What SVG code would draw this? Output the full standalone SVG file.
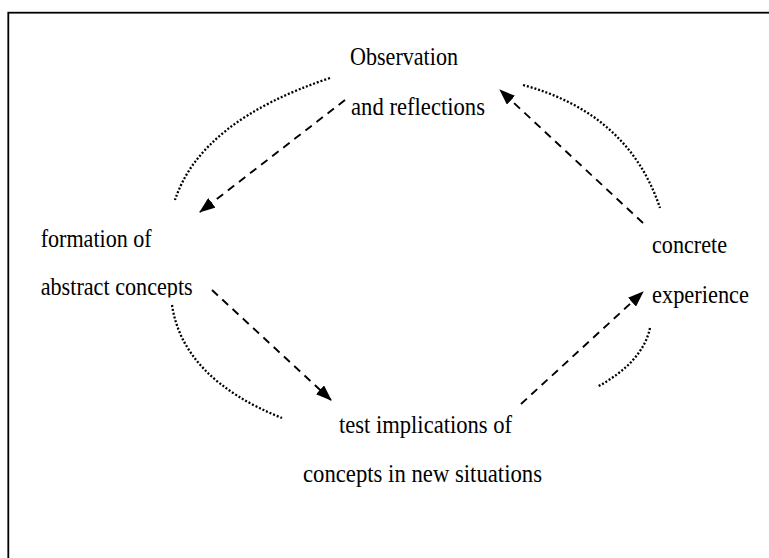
<svg xmlns="http://www.w3.org/2000/svg" width="769" height="558" viewBox="0 0 769 558">
  <style>
    text { font-family: "Liberation Serif", "DejaVu Serif", serif; font-size: 26px; fill: #000; }
    .cycle { fill: none; stroke: #000; stroke-width: 2.3; stroke-dasharray: 2 1.9; }
    .flow { fill: none; stroke: #000; stroke-width: 1.9; stroke-dasharray: 8 6; }
  </style>
  <defs>
    <marker id="arrow" viewBox="0 0 16 12" refX="15" refY="6" markerWidth="16" markerHeight="12" markerUnits="userSpaceOnUse" orient="auto">
      <path d="M0,0 L16,6 L0,12 Z" fill="#000"/>
    </marker>
    <clipPath id="clipAbstract">
      <rect x="30" y="260" width="200" height="37.5"/>
    </clipPath>
  </defs>

  <rect x="0" y="0" width="769" height="558" fill="#fff"/>
  <!-- frame -->
  <rect x="8.3" y="12.7" width="800" height="600" fill="none" stroke="#000" stroke-width="1.8"/>

  <g id="observation">
    <text x="350" y="65" textLength="108" lengthAdjust="spacingAndGlyphs">Observation</text>
    <text x="351" y="115" textLength="134" lengthAdjust="spacingAndGlyphs">and reflections</text>
  </g>

  <g id="formation">
    <text x="40.7" y="247" textLength="111" lengthAdjust="spacingAndGlyphs">formation of</text>
    <text x="40.7" y="295" textLength="152" lengthAdjust="spacingAndGlyphs" clip-path="url(#clipAbstract)">abstract concepts</text>
  </g>

  <g id="concrete">
    <text x="652" y="253" textLength="75" lengthAdjust="spacingAndGlyphs">concrete</text>
    <text x="652" y="302.5" textLength="97" lengthAdjust="spacingAndGlyphs">experience</text>
  </g>

  <g id="test">
    <text x="339" y="433" textLength="173" lengthAdjust="spacingAndGlyphs">test implications of</text>
    <text x="303" y="482" textLength="239" lengthAdjust="spacingAndGlyphs">concepts in new situations</text>
  </g>

  <g id="connectors">
    <!-- dotted cycle arcs -->
    <path class="cycle" d="M330,78 Q201,121 175,200"/>
    <path class="cycle" d="M523,85 Q628.5,113.5 660,208"/>
    <path class="cycle" d="M172,305 Q183,378.5 282,418"/>
    <path class="cycle" d="M650,328 Q642.5,362.5 597,387"/>
    <!-- dashed flow arrows -->
    <path class="flow" d="M345,100 L200,212" marker-end="url(#arrow)"/>
    <path class="flow" d="M643,223 L500,90" marker-end="url(#arrow)"/>
    <path class="flow" d="M212,290 L331,400" marker-end="url(#arrow)"/>
    <path class="flow" d="M521,404 L643,292" marker-end="url(#arrow)"/>
  </g>
</svg>
